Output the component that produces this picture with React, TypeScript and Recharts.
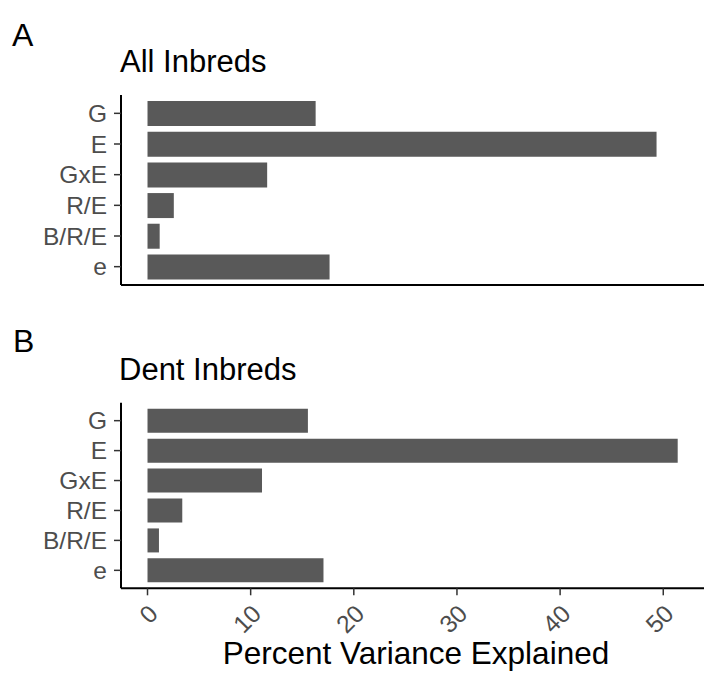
import React from 'react';
import { BarChart, Bar, XAxis, YAxis } from 'recharts';

// Variance components, in display order (top to bottom)
const components = ['G', 'E', 'GxE', 'R/E', 'B/R/E', 'e'];
const allInbredsPct = [16.3, 49.35, 11.6, 2.55, 1.18, 17.65];
const dentInbredsPct = [15.55, 51.4, 11.1, 3.37, 1.11, 17.06];
const pctTicks = [0, 10, 20, 30, 40, 50];

const FONT = '"Liberation Sans", Arial, Helvetica, sans-serif';
const BAR_FILL = '#595959';
const TEXT_GREY = '#4D4D4D';
const TICK_FONT = 24.5;
const X_DOMAIN: [number, number] = [-2.57, 53.95];

const allRows = components.map((name, i) => ({ name, pct: allInbredsPct[i] }));
const dentRows = components.map((name, i) => ({ name, pct: dentInbredsPct[i] }));

// Percent ticks, turned 45 degrees and ending just right of the tick mark
const RotatedTick = (props: any) => {
  const { x, y, payload } = props;
  const px = x + 12;
  const py = y + 20;
  return (
    <text
      x={px}
      y={py}
      textAnchor="end"
      fill={TEXT_GREY}
      fontSize={TICK_FONT}
      fontFamily={FONT}
      transform={`rotate(-45, ${px}, ${py})`}
    >
      {payload.value}
    </text>
  );
};

// Component names, right aligned against the tick marks
const NameTick = (props: any) => {
  const { x, y, payload } = props;
  return (
    <text
      x={x}
      y={y}
      dy="0.36em"
      textAnchor="end"
      fill={TEXT_GREY}
      fontSize={TICK_FONT}
      fontFamily={FONT}
    >
      {payload.value}
    </text>
  );
};

const yAxisProps = {
  type: 'category' as const,
  dataKey: 'name',
  width: 121,
  interval: 0,
  axisLine: { stroke: '#000000', strokeWidth: 2 },
  tickLine: { stroke: '#333333', strokeWidth: 1.5 },
  tickSize: 7,
  tickMargin: 7,
  tick: <NameTick />,
};

export default function App() {
  return (
    <div style={{ position: 'absolute', left: 0, top: 0, width: 704, height: 677, background: '#ffffff' }}>
      <div style={{ position: 'absolute', left: 0, top: 0 }}>
        <BarChart
          width={704}
          height={300}
          data={allRows}
          layout="vertical"
          margin={{ top: 95, right: 0, bottom: 14, left: 0 }}
          barCategoryGap="10%"
        >
          <XAxis
            type="number"
            dataKey="pct"
            domain={X_DOMAIN}
            allowDataOverflow
            ticks={pctTicks}
            height={1}
            tick={false}
            tickLine={false}
            axisLine={{ stroke: '#000000', strokeWidth: 2 }}
          />
          <YAxis {...yAxisProps} padding={{ top: 3, bottom: 3 }} />
          <Bar dataKey="pct" fill={BAR_FILL} isAnimationActive={false} />
        </BarChart>
      </div>
      <div style={{ position: 'absolute', left: 0, top: 310 }}>
        <BarChart
          width={704}
          height={367}
          data={dentRows}
          layout="vertical"
          margin={{ top: 92.7, right: 0, bottom: 0, left: 0 }}
          barCategoryGap="10%"
        >
          <XAxis
            type="number"
            dataKey="pct"
            domain={X_DOMAIN}
            allowDataOverflow
            ticks={pctTicks}
            height={88.7}
            tickSize={7}
            tickMargin={0}
            tickLine={{ stroke: '#333333', strokeWidth: 1.5 }}
            axisLine={{ stroke: '#000000', strokeWidth: 2 }}
            tick={<RotatedTick />}
            interval={0}
          />
          <YAxis {...yAxisProps} padding={{ top: 3, bottom: 3 }} />
          <Bar dataKey="pct" fill={BAR_FILL} isAnimationActive={false} />
        </BarChart>
      </div>
      <svg
        width={704}
        height={677}
        style={{ position: 'absolute', left: 0, top: 0, pointerEvents: 'none' }}
        fontFamily={FONT}
      >
        <text x={12} y={46} fontSize={32} fill="#000000">A</text>
        <text x={120} y={72} fontSize={31} fill="#000000">All Inbreds</text>
        <text x={13} y={352} fontSize={32} fill="#000000">B</text>
        <text x={119} y={380} fontSize={31} fill="#000000">Dent Inbreds</text>
        <text x={416} y={664} fontSize={31.5} textAnchor="middle" fill="#000000">
          Percent Variance Explained
        </text>
      </svg>
    </div>
  );
}
